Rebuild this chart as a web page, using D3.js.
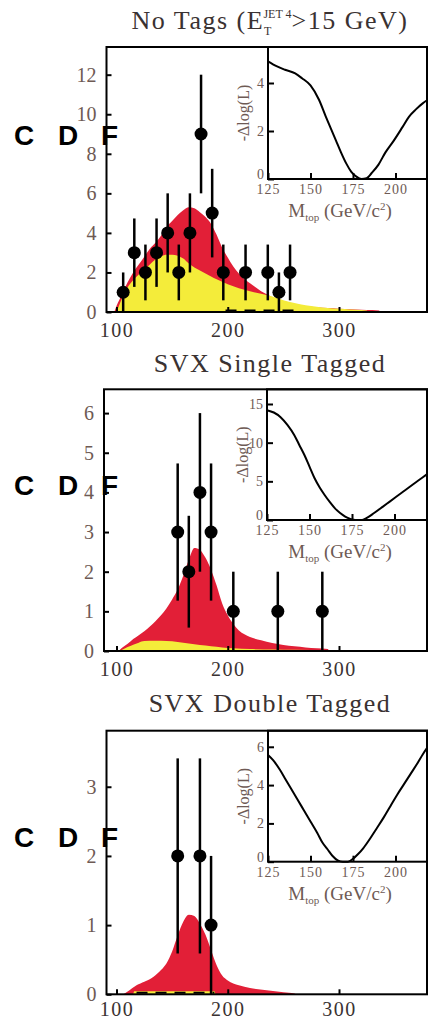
<!DOCTYPE html>
<html>
<head>
<meta charset="utf-8">
<script src="https://cdn.jsdelivr.net/npm/d3@7"></script>
<style>
  body { margin: 0; background: #fff; }
  svg { display: block; }
  .tick text { font-family: "Liberation Serif", "DejaVu Serif", serif; }
</style>
</head>
<body>
<svg width="428" height="1022"></svg>
<script>
var svg = d3.select("svg");

// ---- panel 1 : no tags ----
var mass1 = [106, 116, 126, 136, 146, 156, 166, 176, 186, 196, 216, 236, 246, 256];
var events1 = [1, 3, 2, 3, 4, 2, 4, 9, 5, 2, 2, 2, 1, 2];
var errors1 = [1, 1.73, 1.41, 1.73, 2, 1.41, 2, 3, 2.24, 1.41, 1.41, 1.41, 1, 1.41];
var totM1 = [98, 100, 105, 110, 115, 120, 125, 130, 135, 140, 145, 150, 155, 160, 165, 170, 175, 180, 185, 190, 195, 200, 205, 210, 215, 220, 225, 230, 235, 240, 245, 250, 260, 270, 280, 290, 300, 310, 320, 330, 336, 337];
var tot1 = [0, 0.3, 0.9, 1.5, 2.0, 2.4, 2.8, 3.2, 3.5, 3.85, 4.3, 4.6, 4.9, 5.15, 5.3, 5.25, 5.05, 4.8, 4.45, 3.9, 3.25, 2.75, 2.3, 1.95, 1.65, 1.45, 1.25, 1.05, 0.9, 0.75, 0.65, 0.55, 0.4, 0.3, 0.24, 0.2, 0.17, 0.14, 0.12, 0.1, 0.08, 0];
var bkgM1 = [100, 105, 110, 115, 120, 125, 130, 135, 140, 145, 150, 155, 160, 165, 170, 175, 180, 185, 190, 200, 210, 220, 230, 240, 250, 260, 270, 280, 290, 300, 310, 320, 325, 326];
var bkg1 = [0, 0.7, 1.25, 1.6, 1.9, 2.15, 2.4, 2.65, 2.82, 2.9, 2.9, 2.85, 2.7, 2.45, 2.25, 2.1, 1.95, 1.8, 1.65, 1.4, 1.2, 1.05, 0.92, 0.78, 0.6, 0.45, 0.34, 0.26, 0.2, 0.16, 0.13, 0.1, 0.08, 0];
var dashM1 = [198, 260];
var likeM1 = [125, 130, 135, 141, 145, 150, 155, 159, 162, 165, 168, 171, 174, 177, 180, 183, 186, 190, 194, 199, 204, 208, 212, 216, 219];
var like1 = [4.9, 4.7, 4.55, 4.4, 4.2, 3.9, 3.3, 2.6, 2.1, 1.6, 1.1, 0.65, 0.3, 0.1, 0, 0.03, 0.25, 0.6, 1.1, 1.6, 2.15, 2.6, 2.9, 3.15, 3.3];
var yTicks1 = [0, 2, 4, 6, 8, 10, 12];
var likeTicks1 = [0, 2, 4];

// ---- panel 2 : SVX single tagged ----
var mass2 = [155, 165, 175, 185, 205, 245, 285];
var events2 = [3, 2, 4, 3, 1, 1, 1];
var errors2 = [1.73, 1.41, 2, 1.73, 1, 1, 1];
var totM2 = [102, 105, 110, 115, 120, 125, 130, 135, 140, 145, 150, 155, 160, 165, 170, 175, 180, 185, 190, 195, 200, 205, 210, 215, 220, 230, 240, 250, 260, 270, 280, 290, 291];
var tot2 = [0, 0.08, 0.18, 0.3, 0.4, 0.5, 0.62, 0.75, 0.9, 1.08, 1.3, 1.55, 1.9, 2.3, 2.6, 2.55, 2.35, 2.05, 1.65, 1.2, 0.9, 0.68, 0.52, 0.42, 0.35, 0.27, 0.2, 0.15, 0.12, 0.09, 0.07, 0.05, 0];
var bkgM2 = [103, 110, 115, 120, 125, 135, 145, 155, 165, 175, 185, 195, 205, 220, 240, 260, 290, 291];
var bkg2 = [0, 0.1, 0.16, 0.21, 0.25, 0.26, 0.25, 0.23, 0.19, 0.15, 0.12, 0.09, 0.07, 0.05, 0.04, 0.03, 0.02, 0];
var likeM2 = [125, 129, 133, 137, 141, 144, 147, 150, 153, 156, 159, 162, 165, 168, 171, 174, 177, 181, 184, 188, 193, 197, 201, 205, 209, 214, 219];
var like2 = [14.2, 13.9, 13.3, 12.3, 11.0, 9.7, 8.4, 6.9, 5.4, 4.2, 3.2, 2.3, 1.5, 0.9, 0.45, 0.15, 0, 0, 0.3, 0.9, 1.7, 2.35, 3.0, 3.65, 4.3, 5.1, 5.9];
var yTicks2 = [0, 1, 2, 3, 4, 5, 6];
var likeTicks2 = [0, 5, 10, 15];

// ---- panel 3 : SVX double tagged ----
var mass3 = [155, 175, 185];
var events3 = [2, 2, 1];
var errors3 = [1.41, 1.41, 1];
var totM3 = [106, 110, 118, 125, 133, 140, 145, 150, 155, 160, 165, 170, 175, 180, 185, 190, 195, 200, 210, 220, 235, 250, 260, 261];
var tot3 = [0, 0.04, 0.13, 0.18, 0.25, 0.35, 0.45, 0.62, 0.85, 1.05, 1.15, 1.13, 1.02, 0.86, 0.64, 0.42, 0.27, 0.2, 0.13, 0.09, 0.06, 0.03, 0.01, 0];
var bkgM3 = [115, 116, 188, 189];
var bkg3 = [0, 0.045, 0.045, 0];
var dashM3 = [118, 188];
var likeM3 = [125, 128, 132, 135, 138, 142, 146, 150, 154, 157, 160, 163, 166, 169, 172, 175, 178, 181, 185, 189, 193, 197, 201, 205, 209, 213, 216, 219];
var like3 = [5.57, 5.3, 4.8, 4.35, 3.9, 3.3, 2.7, 2.1, 1.5, 1.0, 0.65, 0.3, 0.07, 0, 0, 0.15, 0.4, 0.7, 1.2, 1.75, 2.3, 2.9, 3.5, 4.05, 4.6, 5.15, 5.6, 6.0];
var yTicks3 = [0, 1, 2, 3];
var likeTicks3 = [0, 2, 4, 6];

var xTicks = [100, 200, 300];
var likeXTicks = [125, 150, 175, 200];

var red = "#e21f37", yellow = "#f4ec3a", labelCol = "#6e5a54", titleCol = "#3a3232";
var serif = "'Liberation Serif', 'DejaVu Serif', serif";
var fmt = d3.format("d");

function panel(p) {
  var g = svg.append("g");
  var x = d3.scaleLinear().domain([100, 300]).range([116.5, 339]);
  var y = d3.scaleLinear().domain([0, p.ymax]).range([p.bottom, p.top]);

  // title
  var t = g.append("text")
      .attr("x", 270).attr("y", p.titleY)
      .attr("text-anchor", "middle")
      .attr("font-family", serif).attr("font-size", 26)
      .attr("letter-spacing", 1.5)
      .attr("fill", titleCol);
  p.title(t);

  // distributions
  var area = function(ms) {
    return d3.area()
      .x(function(d, i) { return x(ms[i]); })
      .y0(y(0))
      .y1(function(d) { return y(d); })
      .curve(d3.curveMonotoneX);
  };
  g.append("path").datum(p.tot).attr("fill", red).attr("d", area(p.totM));
  g.append("path").datum(p.bkg).attr("fill", yellow).attr("d", area(p.bkgM));
  if (p.dashM) {
    g.append("line")
      .attr("x1", x(p.dashM[0])).attr("x2", x(p.dashM[1]))
      .attr("y1", y(0) - 1.5).attr("y2", y(0) - 1.5)
      .attr("stroke", "#000").attr("stroke-width", 2)
      .attr("stroke-dasharray", "11,8");
  }

  // data points
  var pts = p.mass.map(function(m, i) { return {m: m, n: p.events[i], e: p.errors[i]}; });
  g.selectAll(".err").data(pts).enter().append("line")
      .attr("x1", function(d) { return x(d.m); })
      .attr("x2", function(d) { return x(d.m); })
      .attr("y1", function(d) { return y(Math.max(0, d.n - d.e)); })
      .attr("y2", function(d) { return y(d.n + d.e); })
      .attr("stroke", "#000").attr("stroke-width", 2.5);
  g.selectAll(".pt").data(pts).enter().append("circle")
      .attr("cx", function(d) { return x(d.m); })
      .attr("cy", function(d) { return y(d.n); })
      .attr("r", 6.5).attr("fill", "#000");

  // axes (inward ticks)
  var ya = g.append("g").attr("transform", "translate(" + p.left + ",0)")
      .call(d3.axisLeft(y).tickValues(p.yTicks).tickFormat(fmt).tickSize(-5).tickPadding(10));
  var xa = g.append("g").attr("transform", "translate(0," + p.bottom + ")")
      .call(d3.axisBottom(x).tickValues(xTicks).tickFormat(fmt).tickSize(-5).tickPadding(p.xPad));
  [ya, xa].forEach(function(a) {
    a.select(".domain").remove();
    a.selectAll(".tick line").attr("stroke", "#000").attr("stroke-width", 2);
  });
  ya.selectAll(".tick text").attr("font-size", 20).attr("fill", labelCol);
  xa.selectAll(".tick text").attr("font-size", 20).attr("fill", titleCol)
      .attr("letter-spacing", 1.5);

  // inset
  var ix = d3.scaleLinear().domain([125, 200]).range([p.inLeft, p.inLeft + 127.5]);
  var iy = d3.scaleLinear().domain([0, p.likeMax]).range([p.inBottom, p.top]);
  g.append("rect")
      .attr("x", p.inLeft).attr("y", p.top)
      .attr("width", 430 - p.inLeft).attr("height", p.inBottom - p.top)
      .attr("fill", "#fff").attr("stroke", "#000").attr("stroke-width", 2);
  var line = d3.line()
      .x(function(d, i) { return ix(p.likeM[i]); })
      .y(function(d) { return iy(d); })
      .curve(d3.curveMonotoneX);
  g.append("path").datum(p.like)
      .attr("fill", "none").attr("stroke", "#000").attr("stroke-width", 2)
      .attr("d", line);
  var iya = g.append("g").attr("transform", "translate(" + p.inLeft + ",0)")
      .call(d3.axisLeft(iy).tickValues(p.likeTicks).tickFormat(fmt).tickSize(-6).tickPadding(4));
  var ixa = g.append("g").attr("transform", "translate(0," + p.inBottom + ")")
      .call(d3.axisBottom(ix).tickValues(likeXTicks).tickFormat(fmt).tickSize(-6).tickPadding(5));
  [iya, ixa].forEach(function(a) {
    a.select(".domain").remove();
    a.selectAll(".tick line").attr("stroke", "#000").attr("stroke-width", 2);
    a.selectAll(".tick text").attr("font-size", 14).attr("fill", labelCol);
  });
  // the "0" sits in the corner, raised above the x labels
  iya.selectAll(".tick text").filter(function(d) { return d === 0; }).attr("dy", "-0.05em");
  ixa.selectAll(".tick text").attr("letter-spacing", 1);
  g.append("text")
      .attr("transform", "translate(" + (p.inLeft - 19) + "," + ((p.top + p.inBottom) / 2) + ") rotate(-90)")
      .attr("text-anchor", "middle")
      .attr("font-family", serif).attr("font-size", 16).attr("fill", labelCol)
      .text("-\u0394log(L)");
  var xl = g.append("text")
      .attr("x", 340).attr("y", p.inBottom + 38)
      .attr("text-anchor", "middle")
      .attr("font-family", serif).attr("font-size", 19).attr("fill", labelCol);
  xl.append("tspan").text("M");
  xl.append("tspan").attr("font-size", 11).attr("dy", 4).text("top");
  xl.append("tspan").attr("dy", -4).text(" (GeV/c");
  xl.append("tspan").attr("font-size", 11).attr("dy", -7).text("2");
  xl.append("tspan").attr("dy", 7).text(")");

  // frame
  g.append("rect")
      .attr("x", p.left).attr("y", p.top)
      .attr("width", 427 - p.left).attr("height", p.bottom - p.top)
      .attr("fill", "none").attr("stroke", "#000").attr("stroke-width", 2);

  // CDF label
  [["C", 14], ["D", 58], ["F", 101]].forEach(function(c) {
    g.append("text").attr("x", c[1]).attr("y", p.cdfY)
      .attr("font-family", "'Liberation Sans', Arial, sans-serif")
      .attr("font-weight", "bold").attr("font-size", 28)
      .attr("fill", "#000").text(c[0]);
  });
}

panel({
  title: function(t) {
    t.append("tspan").text("No Tags (E");
    t.append("tspan").attr("font-size", 12).attr("dy", 6).attr("letter-spacing", 0).text("T");
    t.append("tspan").attr("font-size", 12).attr("dx", -8).attr("dy", -17).attr("letter-spacing", 0).text("JET 4");
    t.append("tspan").attr("dy", 11).text(">15 GeV)");
  },
  titleY: 29, top: 47, bottom: 312, left: 106.5, ymax: 13.4, xPad: 11,
  mass: mass1, events: events1, errors: errors1,
  totM: totM1, tot: tot1, bkgM: bkgM1, bkg: bkg1, dashM: dashM1,
  yTicks: yTicks1, inLeft: 268, inBottom: 179, likeMax: 5.5,
  likeM: likeM1, like: like1, likeTicks: likeTicks1, cdfY: 145
});
panel({
  title: function(t) { t.text("SVX Single Tagged"); },
  titleY: 372, top: 389.3, bottom: 651, left: 104, ymax: 6.6, xPad: 11,
  mass: mass2, events: events2, errors: errors2,
  totM: totM2, tot: tot2, bkgM: bkgM2, bkg: bkg2, dashM: null,
  yTicks: yTicks2, inLeft: 267, inBottom: 520, likeMax: 16.9,
  likeM: likeM2, like: like2, likeTicks: likeTicks2, cdfY: 495
});
panel({
  title: function(t) { t.text("SVX Double Tagged"); },
  titleY: 712, top: 730.7, bottom: 994.3, left: 106.5, ymax: 3.81, xPad: 8,
  mass: mass3, events: events3, errors: errors3,
  totM: totM3, tot: tot3, bkgM: bkgM3, bkg: bkg3, dashM: dashM3,
  yTicks: yTicks3, inLeft: 268, inBottom: 861.7, likeMax: 6.84,
  likeM: likeM3, like: like3, likeTicks: likeTicks3, cdfY: 847
});
</script>
</body>
</html>
